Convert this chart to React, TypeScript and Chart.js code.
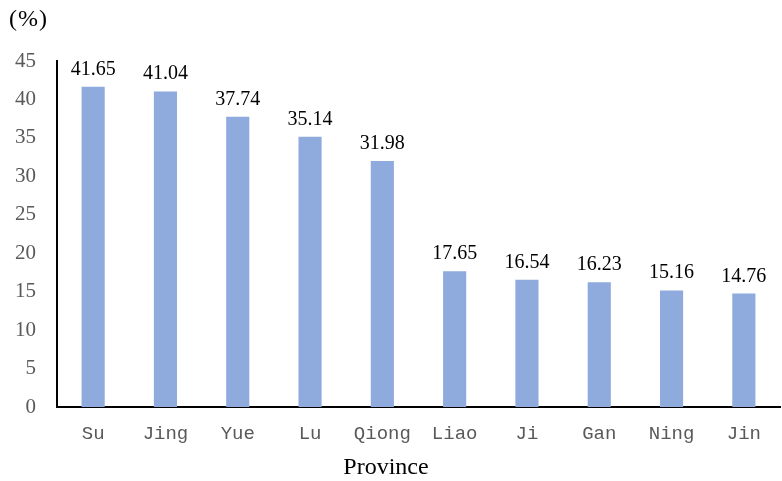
import React, { useEffect, useRef } from "react";
import { Chart, registerables } from "chart.js";

Chart.register(...registerables);

const categories = ["Su", "Jing", "Yue", "Lu", "Qiong", "Liao", "Ji", "Gan", "Ning", "Jin"];
const values = [41.65, 41.04, 37.74, 35.14, 31.98, 17.65, 16.54, 16.23, 15.16, 14.76];
const yUnit = "(%)";
const xTitle = "Province";

const labelPlugin = {
  id: "customLabels",
  afterDatasetsDraw(chart: any) {
    const ctx = chart.ctx;
    const meta = chart.getDatasetMeta(0);
    ctx.save();
    ctx.fillStyle = "#000";
    ctx.font = '20px "Liberation Serif", serif';
    ctx.textAlign = "center";
    ctx.textBaseline = "alphabetic";
    meta.data.forEach((bar: any, i: number) => {
      ctx.fillText(values[i].toFixed(2), bar.x, bar.y - 12);
    });
    ctx.font = '24px "Liberation Serif", serif';
    ctx.textAlign = "left";
    ctx.textBaseline = "middle";
    (ctx as any).letterSpacing = "1px";
    ctx.fillText(yUnit, 9, 20);
    (ctx as any).letterSpacing = "0px";
    ctx.font = '24px "Liberation Serif", serif';
    ctx.textAlign = "center";
    ctx.fillText(xTitle, 386, 468);
    ctx.restore();
  },
};

export default function App() {
  const ref = useRef<HTMLCanvasElement>(null);
  useEffect(() => {
    document.body.style.margin = "0";
    const chart = new Chart(ref.current!, {
      type: "bar",
      data: {
        labels: categories,
        datasets: [
          {
            data: values,
            backgroundColor: "#8FAADC",
            categoryPercentage: 1,
            barPercentage: 0.32,
          },
        ],
      },
      options: {
        animation: false,
        responsive: false,
        layout: { padding: { top: 61, right: 2, bottom: 0, left: 0 } },
        plugins: { legend: { display: false }, tooltip: { enabled: false } },
        scales: {
          x: {
            grid: { display: false, drawTicks: false },
            border: { display: true, color: "#000", width: 2 },
            ticks: {
              color: "#595959",
              font: { family: '"Liberation Mono", monospace', size: 19 },
              padding: 16,
            },
            afterFit(scale: any) {
              scale.height = 74;
            },
          },
          y: {
            min: 0,
            max: 45,
            grid: { display: false, drawTicks: false },
            border: { display: true, color: "#000", width: 2 },
            ticks: {
              stepSize: 5,
              color: "#595959",
              font: { family: '"Liberation Serif", serif', size: 21 },
              padding: 21,
            },
            afterFit(scale: any) {
              scale.width = 57;
            },
          },
        },
      },
      plugins: [labelPlugin],
    });
    return () => chart.destroy();
  }, []);
  return (
    <div style={{ position: "absolute", left: 0, top: 0, width: 782, height: 481 }}>
      <canvas ref={ref} width={782} height={481} />
    </div>
  );
}
